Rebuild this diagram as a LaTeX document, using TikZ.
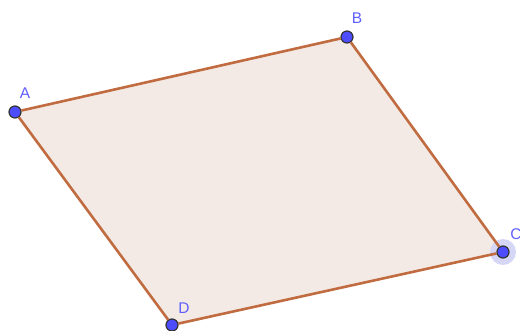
\documentclass[tikz,border=0pt]{standalone}
\usepackage{fontspec}
\setsansfont{Liberation Sans}
\usetikzlibrary{positioning}
\definecolor{edgec}{RGB}{192,108,64}
\definecolor{facec}{RGB}{244,234,229}
\definecolor{ptc}{RGB}{77,77,255}
\definecolor{labc}{RGB}{95,95,255}
\definecolor{haloc}{RGB}{214,214,247}
\tikzset{
  pt/.style={circle,draw=black!80,line width=1.2pt,fill=ptc,minimum size=12pt,inner sep=0pt},
  lab/.style={font=\sffamily\fontsize{15.5}{17}\selectfont,text=labc,inner sep=0pt},
  side/.style={draw=edgec,line width=2.6pt},
}
\begin{document}
\begin{tikzpicture}[x=1pt,y=-1pt]
  \useasboundingbox (0,0) rectangle (520,331);
  % vertices
  \coordinate (pA) at (15,112);
  \coordinate (pB) at (347,37);
  \coordinate (pC) at (503,252);
  \coordinate (pD) at (172,325);

  \fill[facec] (pA) -- (pB) -- (pC) -- (pD) -- cycle;
  \fill[haloc] (pC) circle (13);
  \node[pt] (A) at (pA) {};
  \node[pt] (B) at (pB) {};
  \node[pt] (C) at (pC) {};
  \node[pt] (D) at (pD) {};

  \draw[side] (A) -- (B);
  \draw[side] (B) -- (C);
  \draw[side] (C) -- (D);
  \draw[side] (D) -- (A);

  \node[lab] at (25,93) {A};
  \node[lab] at (357,18) {B};
  \node[lab] at (516,234) {C};
  \node[lab] at (184,308) {D};
\end{tikzpicture}
\end{document}
